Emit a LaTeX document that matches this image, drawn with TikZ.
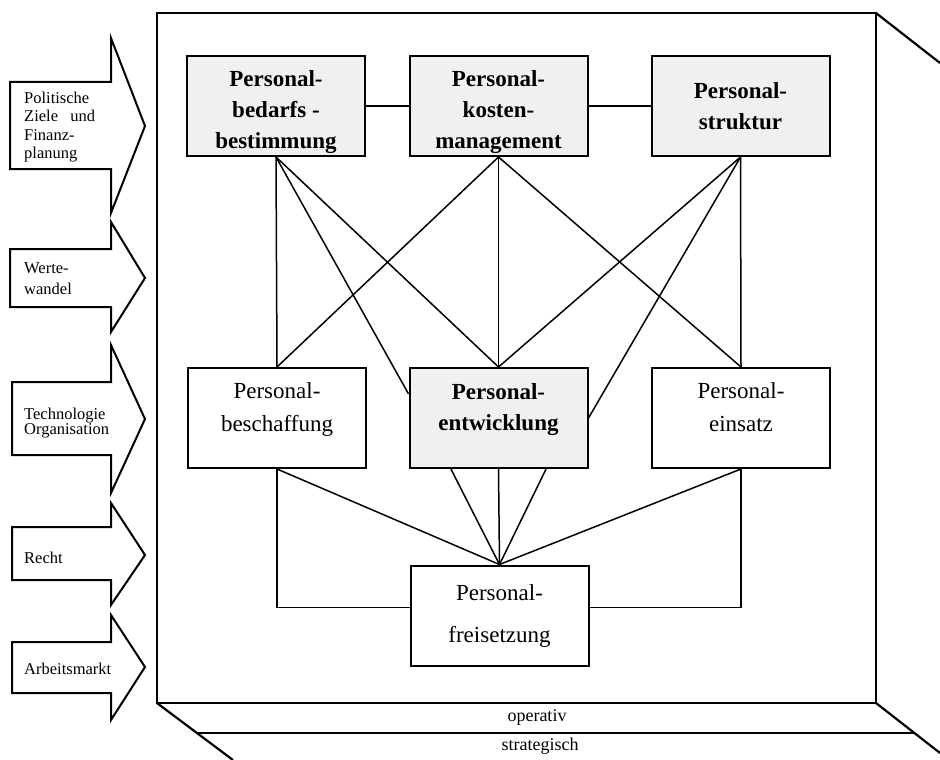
\documentclass[tikz,border=0pt]{standalone}
\usepackage{fontspec}
\setmainfont{Liberation Serif}
\usetikzlibrary{calc}

\begin{document}
\begin{tikzpicture}[
  x=1pt, y=-1pt,
  pbox/.style={draw, line width=2pt, minimum width=178pt, minimum height=100pt,
    align=center, inner sep=2pt},
  darkbox/.style={pbox, fill=black!6, font=\fontsize{23}{31}\selectfont\bfseries},
  lightbox/.style={pbox, fill=white, font=\fontsize{23}{33}\selectfont},
  link/.style={line width=1.5pt},
  frameline/.style={line width=2.2pt},
  blockarrow/.style={draw, line width=2pt, fill=white, line join=miter},
  atext/.style={anchor=west, align=left, inner sep=0pt, font=\fontsize{16.5}{18.5}\selectfont},
  bandtext/.style={inner sep=0pt, font=\fontsize{18}{20}\selectfont}
]
  \useasboundingbox (0,0) rectangle (940,760);

  %% FRAME with operativ / strategisch levels
  \draw[frameline] (157,13) rectangle (876,703);
  \draw[frameline] (876,13) -- (940,63);
  \draw[frameline] (157,703) -- (197,733) -- (233,760);
  \draw[frameline] (197,733) -- (914,733);
  \draw[frameline] (876,703) -- (940,753);
  \node[bandtext] (operativ) at (537,717) {operativ};
  \node[bandtext] (strategisch) at (540,746) {strategisch};

  %% INFLUENCES — block arrows on the left
  \draw[blockarrow] (10,82) -- (111,82) -- (111,38) -- (145,126) -- (111,213) -- (111,169) -- (10,169) -- cycle;
  \draw[blockarrow] (10,249) -- (111,249) -- (111,222) -- (145,278) -- (111,332) -- (111,307) -- (10,307) -- cycle;
  \draw[blockarrow] (12,382) -- (111,382) -- (111,345) -- (145,419) -- (111,493) -- (111,455) -- (12,455) -- cycle;
  \draw[blockarrow] (12,527) -- (111,527) -- (111,503) -- (145,555) -- (111,605) -- (111,580) -- (12,580) -- cycle;
  \draw[blockarrow] (12,642) -- (111,642) -- (111,615) -- (145,667) -- (111,720) -- (111,693) -- (12,693) -- cycle;

  \node[atext] (politik) at (24,127) {Politische\\Ziele \ \ und\\Finanz-\\planung};
  \node[atext, font=\fontsize{16.5}{21}\selectfont] (werte) at (24,279) {Werte-\\wandel};
  \node[atext, font=\fontsize{16.5}{15.5}\selectfont] (technik) at (24,423) {Technologie\\Organisation};
  \node[atext] (recht) at (24,558) {Recht};
  \node[atext] (markt) at (24,669) {Arbeitsmarkt};

  %% ROW 1
  \node[darkbox, text height=84pt, text depth=0pt] (bedarf) at (276,106) {Personal-\\bedarfs -\\bestimmung};
  \node[darkbox, text height=84pt, text depth=0pt] (kosten) at (498.5,106) {Personal-\\kosten-\\management};
  \node[darkbox] (struktur) at (740.5,106) {Personal-\\struktur};

  %% ROW 2
  \node[lightbox, text depth=21pt] (beschaffung) at (277,418) {Personal-\\beschaffung};
  \node[darkbox, text depth=21pt] (entwicklung) at (498.5,418) {Personal-\\entwicklung};
  \node[lightbox, text depth=21pt] (einsatz) at (741,418) {Personal-\\einsatz};

  %% ROW 3
  \node[lightbox, font=\fontsize{23}{42}\selectfont] (freisetzung) at (499.5,615.5) {Personal-\\freisetzung};

  %% CONNECTORS
  \draw[link] (bedarf.east) -- (kosten.west);
  \draw[link] (kosten.east) -- (struktur.west);

  \draw[link] (bedarf.south) -- (beschaffung.north);
  \draw[link] (bedarf.south) -- (entwicklung.165);
  \draw[link] (bedarf.south) -- (entwicklung.north);
  \draw[link] (kosten.south) -- (beschaffung.north);
  \draw[link] (kosten.south) -- (entwicklung.north);
  \draw[link] (kosten.south) -- (einsatz.north);
  \draw[link] (struktur.south) -- (entwicklung.north);
  \draw[link] (struktur.south) -- (entwicklung.east);
  \draw[link] (struktur.south) -- (einsatz.north);

  \draw[link] (beschaffung.south) |- (freisetzung.175);
  \draw[link] (einsatz.south) |- (freisetzung.5);
  \draw[link] (beschaffung.south) -- (freisetzung.north);
  \draw[link] (entwicklung.-133) -- (freisetzung.north);
  \draw[link] (entwicklung.south) -- (freisetzung.north);
  \draw[link] (entwicklung.-47) -- (freisetzung.north);
  \draw[link] (einsatz.south) -- (freisetzung.north);

\end{tikzpicture}
\end{document}
